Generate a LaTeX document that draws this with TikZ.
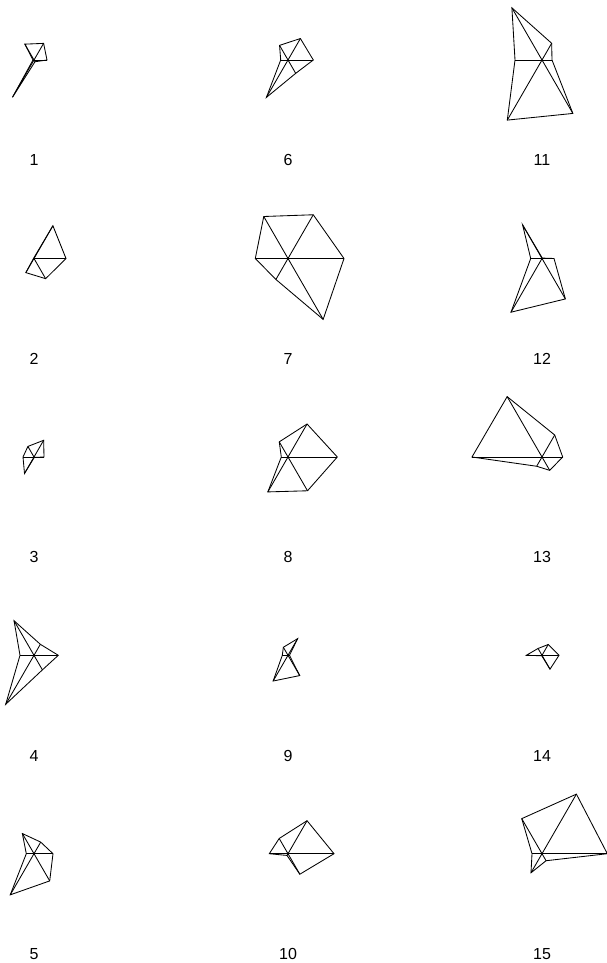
\documentclass[tikz,border=0pt]{standalone}
\usepackage{fontspec}
\setmainfont{Liberation Sans}

\begin{document}
\begin{tikzpicture}[
    x=1pt, y=1pt,
    star_line/.style={black, line width=0.85pt},
    star_label/.style={anchor=base, font=\fontsize{16}{16}\selectfont}
]
    \useasboundingbox (0,0) rectangle (607,-963);
    \foreach \id/\cx/\cy/\ra/\rb/\rc/\rd/\re/\rf in {
        1/34/60/13/19.2/18.3/1/43/2,
        2/34/258.5/32/37.8/0.5/0.5/16.3/23.3,
        3/34/457/10/19.3/12.2/11/19/0.5,
        4/34/655.3/24.3/12.7/39.9/14/56.6/16.8,
        5/34/853.7/19/13.4/23.3/7.7/47.5/31.4,
        6/288/60/25.3/24.8/16.9/7.3/43.2/15.4,
        7/288/258.5/56/50.5/48.5/32.7/24.2/70.3,
        8/288/457/49.3/38.1/17.5/6.7/40.3/39,
        9/288/655.3/1.5/19.2/9.3/5.7/29.7/23.4,
        10/288/853.7/46/38.1/17.6/18.7/2/23.7,
        11/542/60/10/19.3/60.2/27/69.4/61.7,
        12/542/258.5/12/0.5/38.8/11.3/62/46.7,
        13/542/457/20.7/25.4/69.7/70/10.7/15.4,
        14/542/655.3/17/12.5/7.9/15.7/0.5/16,
        15/542/853.7/65.3/68.8/40.5/10/22/8.1
    }{
        \begin{scope}[shift={(\cx,-\cy)}]
            \coordinate (c\id) at (0,0);
            \coordinate (a\id) at (0:\ra);
            \coordinate (b\id) at (60:\rb);
            \coordinate (d\id) at (120:\rc);
            \coordinate (e\id) at (180:\rd);
            \coordinate (f\id) at (240:\re);
            \coordinate (g\id) at (300:\rf);
            \draw[star_line] (a\id) -- (b\id) -- (d\id) -- (e\id) -- (f\id) -- (g\id) -- cycle;
            \foreach \v in {a,b,d,e,f,g}
                \draw[star_line] (c\id) -- (\v\id);
            \node[star_label] (label\id) at (0,-105.7) {\id};
        \end{scope}
    }
\end{tikzpicture}
\end{document}
